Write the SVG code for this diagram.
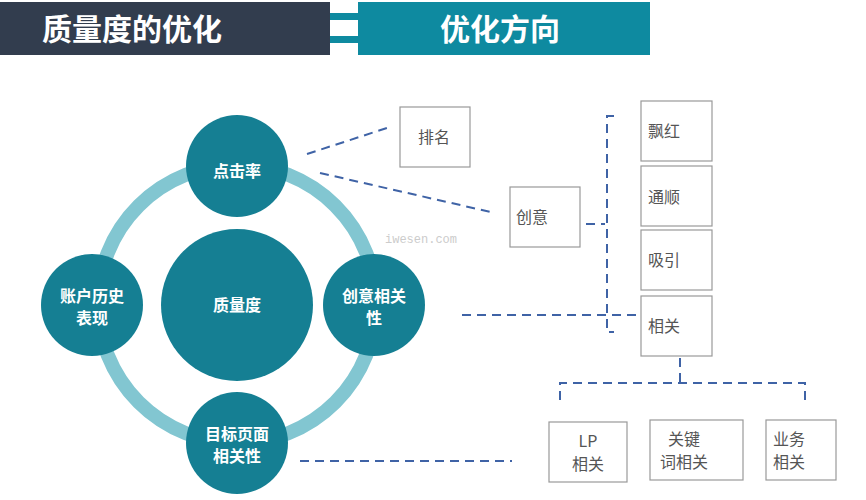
<svg xmlns="http://www.w3.org/2000/svg" width="866" height="500" viewBox="0 0 866 500">
<style>
.h{font-family:"Noto Sans CJK SC","Liberation Sans",sans-serif;font-weight:bold;font-size:30px;fill:#fff}
.c{fill:#157f93}
.ct{font-family:"Noto Sans CJK SC",sans-serif;font-weight:bold;font-size:16px;fill:#fff;text-anchor:middle}
.b{fill:#fff;stroke:#999;stroke-width:1.2}
.bt{font-family:"Noto Sans CJK SC",sans-serif;font-size:16px;fill:#555}
.d{fill:none;stroke:#3f63a6;stroke-width:2;stroke-dasharray:9,6}
</style>
<rect width="866" height="500" fill="#fff"/>
<g id="header">
<rect x="0" y="2" width="330" height="53" fill="#323d4e"/>
<rect x="330" y="13" width="30" height="7" fill="#0e8aa0"/>
<rect x="330" y="36" width="30" height="7" fill="#0e8aa0"/>
<rect x="358" y="2" width="292" height="53" fill="#0e8aa0"/>
<text class="h" x="42" y="40">质量度的优化</text>
<text class="h" x="440" y="40">优化方向</text>
</g>
<text x="385" y="243" font-family="Liberation Mono,monospace" font-size="12" fill="#ccc">iwesen.com</text>
<g id="connectors">
<path class="d" d="M307 154L390 127M320 173L495 213M462 315L640 315M300 461L512 461M586 224H605M614 116H607V332H614M680 358V383M560 400V383H805V405"/>
</g>
<g id="ring"><circle cx="237" cy="304" r="139" fill="none" stroke="#82c6d1" stroke-width="14"/></g>
<g id="center"><circle class="c" cx="237" cy="305" r="76"/><text class="ct" x="237" y="311">质量度</text></g>
<g id="ctr"><circle class="c" cx="237" cy="166" r="51"/><text class="ct" x="237" y="177">点击率</text></g>
<g id="hist"><circle class="c" cx="92" cy="305" r="51"/><text class="ct" x="92" y="302">账户历史</text><text class="ct" x="92" y="324">表现</text></g>
<g id="creative"><circle class="c" cx="374" cy="305" r="51"/><text class="ct" x="374" y="302">创意相关</text><text class="ct" x="374" y="324">性</text></g>
<g id="lp"><circle class="c" cx="237" cy="443" r="51"/><text class="ct" x="237" y="440">目标页面</text><text class="ct" x="237" y="462">相关性</text></g>
<g id="rank"><rect class="b" x="400" y="107" width="70" height="60"/><text class="bt" x="418" y="143">排名</text></g>
<g id="cy"><rect class="b" x="510" y="187" width="70" height="60"/><text class="bt" x="516" y="223">创意</text></g>
<g id="ph"><rect class="b" x="641" y="101" width="71" height="60"/><text class="bt" x="648" y="137">飘红</text></g>
<g id="ts"><rect class="b" x="641" y="166" width="71" height="60"/><text class="bt" x="648" y="203">通顺</text></g>
<g id="xy"><rect class="b" x="641" y="230" width="71" height="60"/><text class="bt" x="648" y="266">吸引</text></g>
<g id="xg"><rect class="b" x="641" y="296" width="71" height="60"/><text class="bt" x="648" y="332">相关</text></g>
<g id="lpx"><rect class="b" x="549" y="422" width="78" height="60"/><text class="bt" x="588" y="447" text-anchor="middle">LP</text><text class="bt" x="588" y="470" text-anchor="middle">相关</text></g>
<g id="gjc"><rect class="b" x="650" y="420" width="93" height="60"/><text class="bt" x="684" y="445" text-anchor="middle">关键</text><text class="bt" x="684" y="468" text-anchor="middle">词相关</text></g>
<g id="yw"><rect class="b" x="766" y="420" width="70" height="60"/><text class="bt" x="789" y="445" text-anchor="middle">业务</text><text class="bt" x="789" y="468" text-anchor="middle">相关</text></g>
</svg>
